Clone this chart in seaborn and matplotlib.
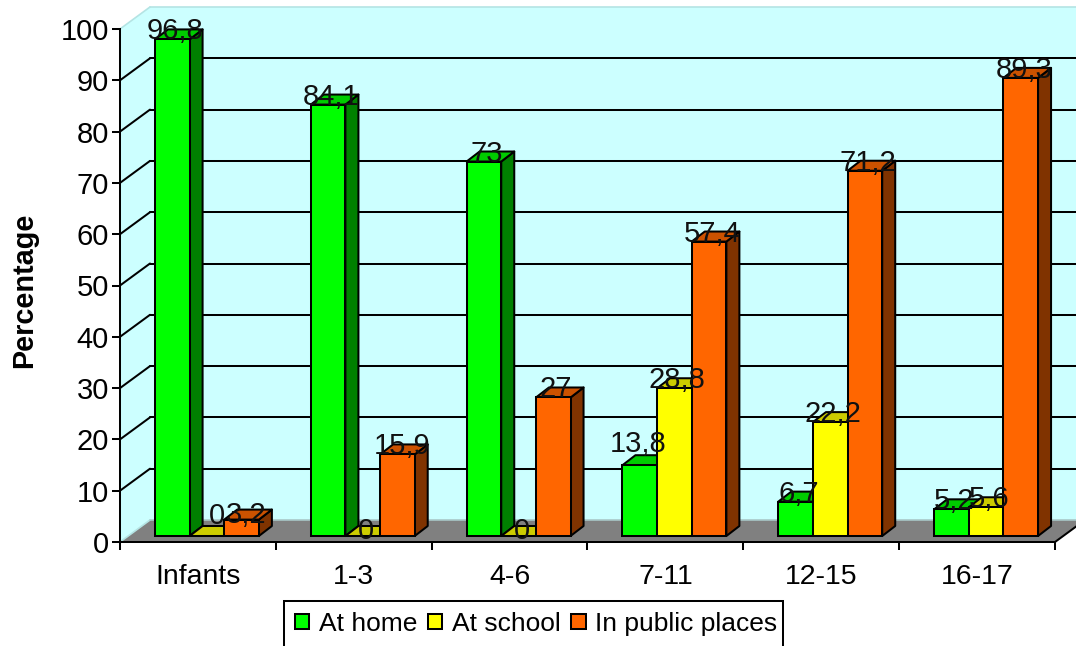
import matplotlib
matplotlib.use("Agg")
import matplotlib.pyplot as plt
import pandas as pd
import seaborn as sns
from matplotlib.patches import Polygon, Rectangle
from matplotlib.transforms import Affine2D, IdentityTransform

age_groups = ["Infants", "1-3", "4-6", "7-11", "12-15", "16-17"]
at_home = [96.8, 84.1, 73, 13.8, 6.7, 5.2]
at_school = [0, 0, 0, 28.8, 22.2, 5.6]
in_public = [3.2, 15.9, 27, 57.4, 71.2, 89.3]
series_names = ["At home", "At school", "In public places"]
y_ticks = list(range(0, 101, 10))

front_colors = ["#00FF00", "#FFFF00", "#FF6600"]
top_colors = ["#00CC00", "#CCCC00", "#CC5200"]
side_colors = ["#008000", "#808000", "#803300"]

WALL = "#CCFFFF"
WALL_EDGE = "#B4E4E4"
FLOOR = "#808080"
LW = 1.45

# Pixel offsets of the oblique projection, measured from the front plane
BAR_FRONT = (9, 6)
BAR_BACK = (22, 16)
WALL_BACK = (30, 22)

# Hand-placed data labels: (right, up) in pixels, keyed by (series index, group index)
LABEL_NUDGE = {
    (0, 3): (-5, 13),
    (1, 0): (7, 12),
    (1, 1): (0, -3),
    (1, 2): (0, -3),
    (2, 0): (2, -3),
    (2, 1): (2, 0),
}

sns.set_theme(style="white")
plt.rcParams["font.family"] = ["Liberation Sans", "DejaVu Sans"]

W, H = 1076, 646
fig = plt.figure(figsize=(W / 100, H / 100), dpi=100)
ax = fig.add_axes([120 / W, (H - 542) / H, 935 / W, 513 / H])
ax.patch.set_alpha(0)

table = pd.DataFrame({
    "group": age_groups * 3,
    "series": [n for n in series_names for _ in age_groups],
    "value": at_home + at_school + in_public,
})
sns.barplot(data=table, x="group", y="value", hue="series", order=age_groups,
            hue_order=series_names, palette=front_colors, width=0.667, gap=0,
            edgecolor="black", linewidth=LW, saturation=1, ax=ax, legend=True)
ax.set_xlim(-0.5, 5.5)
ax.set_ylim(0, 100)
fig.canvas.draw()


def shifted(offset):
    return ax.transData + Affine2D().translate(*offset)


def to_px(x, y, offset=(0, 0)):
    px, py = ax.transData.transform((x, y))
    return px + offset[0], py + offset[1]


def face(points, color, z, edge="black", lw=LW):
    ax.add_patch(Polygon(points, closed=True, facecolor=color, edgecolor=edge, linewidth=lw,
                         transform=IdentityTransform(), clip_on=False, zorder=z, joinstyle="round"))


def px_line(a, b, color, lw, z):
    ax.plot([a[0], b[0]], [a[1], b[1]], transform=IdentityTransform(), color=color, lw=lw,
            clip_on=False, zorder=z)


# Walls and floor of the chart box
x0, x1 = -0.5, 5.5
face([to_px(x0, 0, WALL_BACK), to_px(x1, 0, WALL_BACK), to_px(x1, 100, WALL_BACK), to_px(x0, 100, WALL_BACK)],
     WALL, 0.1, "none", 0)
face([to_px(x0, 0), to_px(x0, 0, WALL_BACK), to_px(x0, 100, WALL_BACK), to_px(x0, 100)],
     WALL, 0.2, "none", 0)
face([to_px(x0, 0), to_px(x1, 0), to_px(x1, 0, WALL_BACK), to_px(x0, 0, WALL_BACK)],
     FLOOR, 0.3, "none", 0)
px_line(to_px(x0, 100, WALL_BACK), to_px(x1, 100, WALL_BACK), WALL_EDGE, 1.2, 0.35)
px_line(to_px(x0, 100), to_px(x0, 100, WALL_BACK), WALL_EDGE, 1.2, 0.35)
px_line(to_px(x0, 0), to_px(x0, 0, WALL_BACK), WALL_EDGE, 1.2, 0.35)
ax.plot([x0, x1], [0, 0], transform=shifted(WALL_BACK), color="#A8C8C8", lw=1.2, clip_on=False, zorder=0.35)

# Grid lines across the back wall and down the side wall
for v in y_ticks[1:-1]:
    ax.plot([x0, x1], [v, v], transform=shifted(WALL_BACK), color="black", lw=LW, clip_on=False, zorder=0.4)
    px_line(to_px(x0, v), to_px(x0, v, WALL_BACK), "black", LW, 0.4)
px_line(to_px(x1, 0), to_px(x1, 0, WALL_BACK), "black", LW, 0.45)

# Give each bar its depth: side and top faces behind the front rectangle
for s, container in enumerate(ax.containers[:3]):
    for g, rect in enumerate(container.patches):
        z = 1 + g + s * 0.1
        left, right = rect.get_x(), rect.get_x() + rect.get_width()
        value = rect.get_height()
        face([to_px(right, 0, BAR_FRONT), to_px(right, 0, BAR_BACK),
              to_px(right, value, BAR_BACK), to_px(right, value, BAR_FRONT)], side_colors[s], z)
        face([to_px(left, value, BAR_FRONT), to_px(right, value, BAR_FRONT),
              to_px(right, value, BAR_BACK), to_px(left, value, BAR_BACK)], top_colors[s], z + 0.01)
        rect.set_transform(shifted(BAR_FRONT))
        rect.set_clip_on(False)
        rect.set_zorder(z + 0.02)
        label = f"{value:g}".replace(".", ",")
        nudge = LABEL_NUDGE.get((s, g), (0, 0))
        ax.annotate(label, ((left + right) / 2, value),
                    xytext=(BAR_FRONT[0] + 3 + nudge[0], BAR_FRONT[1] + 8 + nudge[1]),
                    textcoords="offset pixels", ha="center", va="center", fontsize=21, color="#111111",
                    zorder=20, annotation_clip=False)

# Axes: ticks sit between the groups on x, labels sit at the group centres
sns.despine(ax=ax, top=True, right=True)
for name in ("left", "bottom"):
    ax.spines[name].set_linewidth(LW)
    ax.spines[name].set_color("black")
    ax.spines[name].set_zorder(0.5)
ax.set_yticks(y_ticks)
ax.set_xticks([i - 0.5 for i in range(7)])
ax.set_xticklabels([])
ax.set_xticks(list(range(6)), labels=age_groups, minor=True)
ax.tick_params(axis="x", which="major", length=6, width=LW, color="black", bottom=True)
ax.tick_params(axis="x", which="minor", length=0, labelsize=20.5, pad=16, labelcolor="black")
ax.tick_params(axis="y", which="major", length=6, width=LW, color="black", left=True, labelsize=21, pad=2,
               labelcolor="black")
ax.grid(False)
ax.set_xlabel("")
ax.set_ylabel("Percentage", fontsize=20.8, fontweight="bold", color="black", va="center")
ax.yaxis.set_label_coords((24 - 120) / 935, (542 - 290.5) / 513)

# Legend frame is drawn on its own so its right margin can be tighter than the left one
fig.add_artist(Rectangle((284 / W, -2 / H), 499 / W, 47 / H, transform=fig.transFigure, facecolor="white",
                         edgecolor="black", linewidth=LW, zorder=4))
handles = ax.get_legend().legend_handles
ax.get_legend().remove()
legend = fig.legend(handles, series_names, ncol=3, loc="lower left", bbox_to_anchor=(284 / W, -1 / H),
                    bbox_transform=fig.transFigure, fontsize=19, frameon=False, borderpad=0.42,
                    handlelength=0.54, handleheight=0.54, handletextpad=0.35,
                    columnspacing=0.42, borderaxespad=0, labelcolor="black")
for h in legend.legend_handles:
    h.set_edgecolor("black")
    h.set_linewidth(LW)

fig.savefig("out.png", dpi=100, facecolor="white")
